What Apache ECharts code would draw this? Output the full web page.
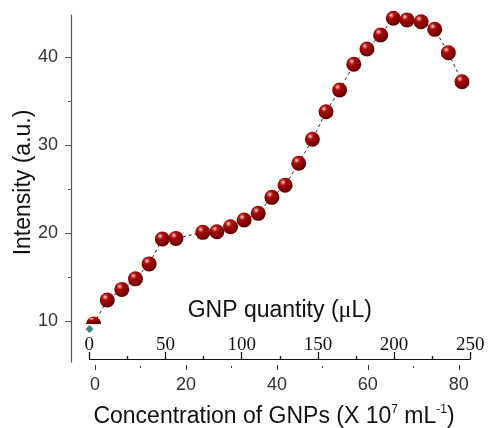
<!DOCTYPE html>
<html>
<head>
<meta charset="utf-8">
<script src="https://cdn.jsdelivr.net/npm/echarts@6/dist/echarts.min.js"></script>
<style>html,body{margin:0;padding:0;background:#fff;}#c{width:489px;height:428px;}</style>
</head>
<body>
<div id="c"></div>
<script>
// Concentration of GNPs (X 10^7 mL^-1) for each measured point
const concentration = [-0.3, 2.7, 5.9, 8.9, 11.9, 14.8, 17.8, 23.7, 26.8, 29.8, 32.8, 35.9, 38.9, 41.8, 44.8, 47.8, 50.8, 53.8, 56.9, 59.8, 62.8, 65.6, 68.6, 71.7, 74.7, 77.7, 80.7];
// Intensity (a.u.)
const intensity = [9.66, 12.39, 13.6, 14.8, 16.5, 19.33, 19.4, 20.09, 20.16, 20.73, 21.49, 22.25, 24.07, 25.44, 27.94, 30.67, 33.81, 36.28, 39.2, 40.94, 42.54, 44.44, 44.25, 44.05, 43.18, 40.52, 37.22];
// blank reference point (teal diamond)
const blankConc = [-1.2];
const blankIntensity = [9.09];
// tick labels
const concTicks = [0, 20, 40, 60, 80];
const concMinorTicks = [10, 30, 50, 70];
const intensityTicks = [10, 20, 30, 40];
const intensityMinorTicks = [15, 25, 35];
const gnpTickMin = 0, gnpTickMax = 250, gnpTickStep = 50;

const sphere = {
  type: 'radial', x: 0.36, y: 0.3, r: 0.72,
  colorStops: [
    {offset: 0, color: '#fff0f0'},
    {offset: 0.12, color: '#e07070'},
    {offset: 0.3, color: '#a80a0a'},
    {offset: 0.75, color: '#820000'},
    {offset: 1, color: '#5a0000'}
  ]
};

const mainData = concentration.map((c, i) => {
  const item = {value: [c, intensity[i]]};
  if (i === 0) {
    item.symbol = 'path://M0,10A10,10,0,0,1,20,10Z';
    item.symbolSize = [15, 7.5];
    item.symbolOffset = [0, -3.75];
  }
  return item;
});

const font = '"Liberation Sans", Arial, sans-serif';
const chart = echarts.init(document.getElementById('c'));
chart.setOption({
  animation: false,
  backgroundColor: '#fff',
  grid: [
    {left: 71, right: 12, top: 15, bottom: 66, containLabel: false, outerBoundsMode: 'none'},
    {left: 89.3, right: 18.7, top: 359, height: 1, containLabel: false, outerBoundsMode: 'none'}
  ],
  xAxis: [
    {
      gridIndex: 0, type: 'value', min: -5.27, max: 84, position: 'bottom', offset: 3,
      axisLine: {show: false, onZero: false},
      axisTick: {show: true, length: 5, customValues: concTicks, lineStyle: {color: '#333', width: 1}},
      axisLabel: {customValues: concTicks, margin: 11, fontSize: 18, color: '#333', fontFamily: font},
      splitLine: {show: false},
      name: '{a|Concentration of GNPs (X 10}{s|7}{a| mL}{s|-1}{a|)}',
      nameLocation: 'middle', nameGap: 39,
      nameTextStyle: {
        rich: {
          a: {fontSize: 23, fontFamily: font, color: '#111', lineHeight: 26},
          s: {fontSize: 12, fontFamily: font, color: '#111', verticalAlign: 'top', lineHeight: 26}
        }
      }
    },
    {
      gridIndex: 0, type: 'value', min: -5.27, max: 84, position: 'bottom', offset: 4,
      axisLine: {show: false, onZero: false},
      axisTick: {show: true, length: 2, customValues: concMinorTicks, lineStyle: {color: '#333', width: 1}},
      axisLabel: {show: false}, splitLine: {show: false}
    },
    {
      gridIndex: 1, type: 'value', min: gnpTickMin, max: gnpTickMax, interval: gnpTickStep, position: 'top',
      axisLine: {show: true, onZero: false, lineStyle: {color: '#111', width: 1}},
      axisTick: {show: true, length: 7, lineStyle: {color: '#111', width: 1.3}},
      minorTick: {show: true, splitNumber: 2, length: 3, lineStyle: {color: '#111', width: 1.3}},
      axisLabel: {margin: 4, fontSize: 19, color: '#111', fontFamily: '"Liberation Serif", "Times New Roman", serif'},
      splitLine: {show: false},
      name: '{a|GNP quantity (}{m|\u03bc}{a|L)}',
      nameLocation: 'middle', nameGap: 36, nameMoveOverlap: false,
      nameTextStyle: {
        rich: {
          a: {fontSize: 23, fontFamily: font, color: '#111'},
          m: {fontSize: 24, fontFamily: '"Liberation Serif", serif', color: '#111'}
        }
      }
    }
  ],
  yAxis: [
    {
      gridIndex: 0, type: 'value', min: 5.34, max: 44.81, position: 'left',
      axisLine: {show: true, onZero: false, lineStyle: {color: '#555', width: 1.2}},
      axisTick: {show: true, length: 6, customValues: intensityTicks, lineStyle: {color: '#555', width: 1}},
      axisLabel: {customValues: intensityTicks, margin: 13, fontSize: 18, color: '#333', fontFamily: font},
      splitLine: {show: false},
      name: 'Intensity (a.u.)', nameLocation: 'middle', nameGap: 36, nameMoveOverlap: false,
      nameTextStyle: {fontSize: 23, fontFamily: font, color: '#111', padding: [0, 0, 0, 12]}
    },
    {
      gridIndex: 0, type: 'value', min: 5.34, max: 44.81, position: 'left',
      axisLine: {show: false, onZero: false},
      axisTick: {show: true, length: 3, customValues: intensityMinorTicks, lineStyle: {color: '#555', width: 1}},
      axisLabel: {show: false}, splitLine: {show: false}
    },
    {gridIndex: 1, type: 'value', show: false}
  ],
  series: [
    {
      type: 'line', xAxisIndex: 0, yAxisIndex: 0,
      data: mainData,
      symbol: 'circle', symbolSize: 15, showSymbol: true, clip: false,
      lineStyle: {color: '#222', width: 1, type: [3, 3]},
      itemStyle: {color: sphere},
      emphasis: {disabled: true}, z: 3
    },
    {
      type: 'scatter', xAxisIndex: 0, yAxisIndex: 0,
      data: blankConc.map((c, i) => [c, blankIntensity[i]]),
      symbol: 'diamond', symbolSize: 8,
      itemStyle: {color: '#0c6464'}, z: 4
    }
  ]
});
</script>
</body>
</html>
